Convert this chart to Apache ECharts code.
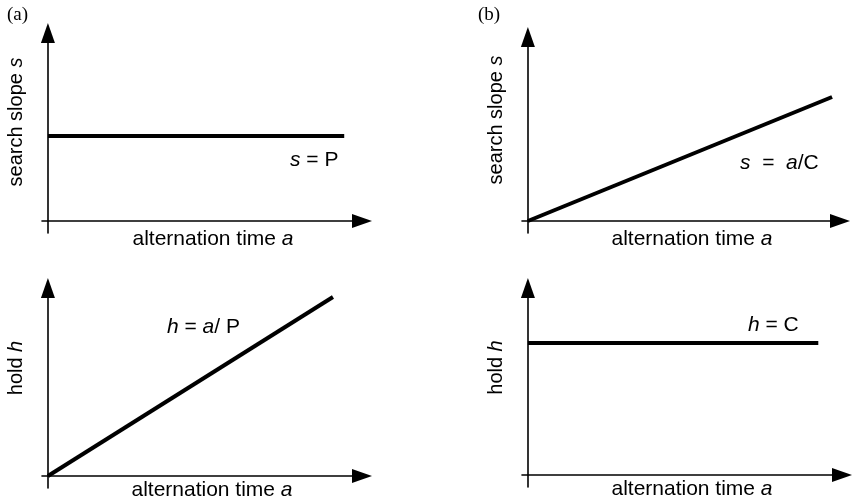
<!DOCTYPE html>
<html>
<head>
<meta charset="utf-8">
<script src="https://cdn.jsdelivr.net/npm/echarts@6/dist/echarts.min.js"></script>
<style>html,body{margin:0;padding:0;background:#fff}#c{width:856px;height:501px}</style>
</head>
<body>
<div id="c"></div>
<script>
// Data (arbitrary units)
const aTopX = [0, 10];      const aTopY = [4.25, 4.25];   // s = P
const aBotX = [0, 9.62];    const aBotY = [0, 8.95];      // h = a/P
const bTopX = [0, 10.33];   const bTopY = [0, 6.2];       // s = a/C
const bBotX = [0, 9.8];     const bBotY = [6.6, 6.6];     // h = C
const xName = 'alternation time ';
const xVar = 'a';
const yNamesText = ['search slope ', 'hold ', 'search slope ', 'hold '];
const yNamesVar = ['s', 'h', 's', 'h'];

const FONT = 'Liberation Sans';
const BLACK = '#000';
const richX = {
  t: { fontSize: 21, fontFamily: FONT, color: BLACK },
  i: { fontSize: 21, fontFamily: FONT, color: BLACK, fontStyle: 'italic' }
};
const richY = {
  t: { fontSize: 20, fontFamily: FONT, color: BLACK },
  i: { fontSize: 20, fontFamily: FONT, color: BLACK, fontStyle: 'italic' }
};

function pairs(xs, ys) { return xs.map((x, i) => [x, ys[i]]); }

const grids = [
  { left: 42, top: 33, width: 320, height: 200, outerBoundsMode: 'none', containLabel: false },
  { left: 42, top: 288, width: 320, height: 200, outerBoundsMode: 'none', containLabel: false },
  { left: 522, top: 37, width: 318, height: 196, outerBoundsMode: 'none', containLabel: false },
  { left: 522, top: 288, width: 320, height: 199, outerBoundsMode: 'none', containLabel: false }
];
const yMax = [9.4, 9.4, 9.2, 9.35];
const xPad = [22, 20, 22, 20];
const xGap = [-4, -8, -4, -8];
const yPad = [22, 40, 30, 40];

const axisLine = {
  onZero: true,
  symbol: ['none', 'triangle'],
  symbolSize: [14, 20],
  lineStyle: { color: BLACK, width: 1.6 }
};

const xAxes = grids.map((g, i) => ({
  type: 'value', gridIndex: i, min: -0.2, max: 10.6,
  axisLine: axisLine, axisTick: { show: false }, axisLabel: { show: false }, splitLine: { show: false },
  name: '{t|' + xName + '}{i|' + xVar + '}',
  nameLocation: 'middle', nameGap: xGap[i],
  nameTextStyle: { fontSize: 21, fontFamily: FONT, color: BLACK, padding: [0, 0, 0, xPad[i]], rich: richX }
}));
const yAxes = grids.map((g, i) => ({
  type: 'value', gridIndex: i, min: -0.6, max: yMax[i],
  axisLine: axisLine, axisTick: { show: false }, axisLabel: { show: false }, splitLine: { show: false },
  name: '{t|' + yNamesText[i] + '}{i|' + yNamesVar[i] + '}',
  nameLocation: 'middle', nameGap: 16, nameRotate: 90,
  nameTextStyle: { fontSize: 20, fontFamily: FONT, color: BLACK, padding: [0, 0, 0, yPad[i]], rich: richY }
}));

const lineStyle = { color: BLACK, width: 4 };
const mk = (i, xs, ys) => ({
  type: 'line', xAxisIndex: i, yAxisIndex: i, data: pairs(xs, ys),
  showSymbol: false, symbol: 'none', lineStyle: lineStyle, silent: true
});

function label(x, y, parts, font, size) {
  return {
    type: 'text', x: x, y: y,
    style: {
      text: parts.map(p => '{' + (p[1] ? 'i' : 't') + '|' + p[0] + '}').join(''),
      rich: {
        t: { fontSize: size, fontFamily: font, fill: BLACK },
        i: { fontSize: size, fontFamily: font, fill: BLACK, fontStyle: 'italic' }
      },
      verticalAlign: 'middle'
    }
  };
}

const chart = echarts.init(document.getElementById('c'), null, { renderer: 'canvas' });
chart.setOption({
  animation: false,
  backgroundColor: '#fff',
  grid: grids,
  xAxis: xAxes,
  yAxis: yAxes,
  series: [mk(0, aTopX, aTopY), mk(1, aBotX, aBotY), mk(2, bTopX, bTopY), mk(3, bBotX, bBotY)],
  graphic: [
    label(7, 15, [['(a)', false]], 'Liberation Serif', 19),
    label(478, 15, [['(b)', false]], 'Liberation Serif', 19),
    label(290, 160, [['s', true], [' = P', false]], FONT, 21),
    label(167, 327, [['h', true], [' = ', false], ['a', true], ['/ P', false]], FONT, 21),
    label(740, 163, [['s', true], ['  =  ', false], ['a', true], ['/C', false]], FONT, 21),
    label(748, 325, [['h', true], [' = C', false]], FONT, 21)
  ]
});
</script>
</body>
</html>
